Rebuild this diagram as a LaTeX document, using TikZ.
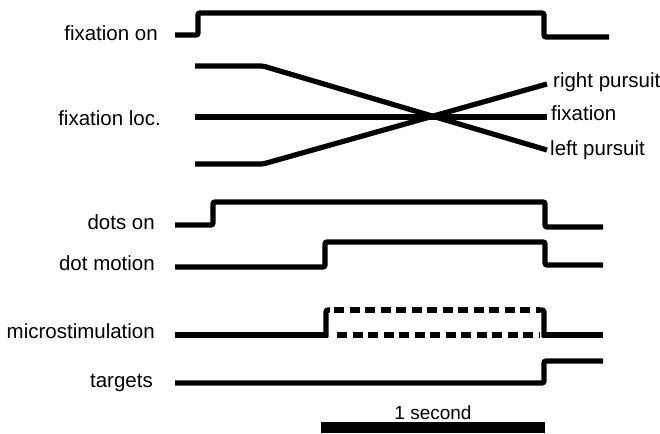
\documentclass[tikz,border=0pt]{standalone}
\usepackage{fontspec}
\setmainfont{Liberation Sans}
\usetikzlibrary{positioning}

\begin{document}
\begin{tikzpicture}[
        x=1pt, y=-1pt,
        sig/.style  = {line width=5.2pt, rounded corners=2pt},
        dsig/.style = {line width=5.2pt, dash pattern=on 10pt off 5.5pt},
        lbl/.style  = {anchor=base east, inner sep=0pt, font=\fontsize{20.5}{24}\selectfont},
        rlbl/.style = {anchor=base west, inner sep=0pt, font=\fontsize{20.5}{24}\selectfont}
    ]
    \useasboundingbox (0,0) rectangle (660,433);

    %Beschriftung links
    \node (lbl_fixon)  [lbl] at(158,41) {fixation on};
    \node (lbl_fixloc) [lbl] at(161,125){fixation loc.};
    \node (lbl_dots)   [lbl] at(155,229){dots on};
    \node (lbl_motion) [lbl] at(155,270){dot motion};
    \node (lbl_stim)   [lbl] at(155,338){microstimulation};
    \node (lbl_targ)   [lbl] at(153,387){targets};

    %Beschriftung rechts
    \node (lbl_right)  [rlbl] at(553,88) {right pursuit};
    \node (lbl_fix)    [rlbl] at(551,121){fixation};
    \node (lbl_left)   [rlbl] at(550,155){left pursuit};

    %Fixation
    \draw[sig] (175,35) -- (198,35) -- (198,13) -- (544,13) -- (544,37) -- (609,37);
    \draw[sig] (195,66)  -- (263,66)  -- (547,150);
    \draw[sig] (195,117) -- (547,117);
    \draw[sig] (195,164) -- (263,164) -- (547,84);

    %Punkte
    \draw[sig] (175,225) -- (213,225) -- (213,202) -- (545,202) -- (545,227) -- (603,227);
    \draw[sig] (175,267) -- (325,267) -- (325,242) -- (545,242) -- (545,265) -- (603,265);

    %Mikrostimulation
    \draw[sig]  (175,335) -- (328,335);
    \draw[sig]  (542,335) -- (603,335);
    \draw[sig]  (326,337) -- (326,310) -- (330,310);
    \draw[sig]  (540,310) -- (544,310) -- (544,337);
    \draw[dsig, dash phase=-4pt] (330,310) -- (540,310);
    \draw[dsig, dash phase=-4pt] (333,335) -- (540,335);

    %Ziele
    \draw[sig] (175,383) -- (544,383) -- (544,361) -- (603,361);

    %Skala
    \node (scale_bar)[fill, inner sep=0pt, minimum width=224pt, minimum height=11pt] at(433,427.5){};
    \node (scale_lbl)[above=2pt of scale_bar, inner sep=0pt, font=\fontsize{19}{22}\selectfont]{1 second};

\end{tikzpicture}
\end{document}
